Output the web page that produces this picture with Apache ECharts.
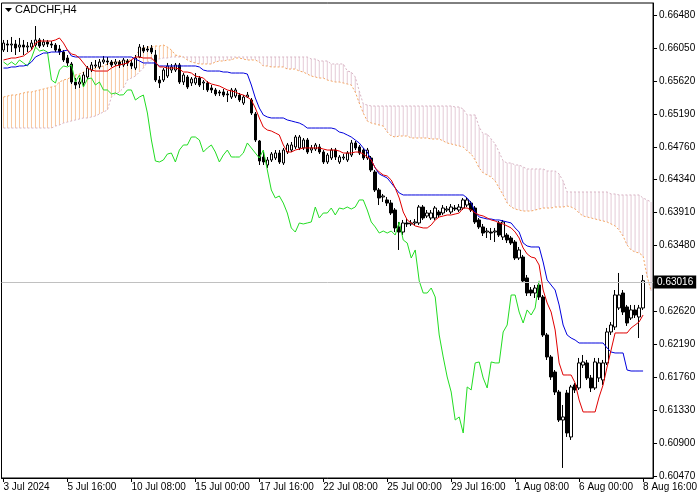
<!DOCTYPE html>
<html><head><meta charset="utf-8">
<script src="https://cdn.jsdelivr.net/npm/echarts/dist/echarts.min.js"></script>
<style>html,body{margin:0;padding:0;background:#fff}#c{width:700px;height:500px}</style>
</head><body><div id="c"></div>
<script>
const symbolName = 'CADCHF,H4';
const tickLabels = ['3 Jul 2024','5 Jul 16:00','10 Jul 08:00','15 Jul 00:00','17 Jul 16:00','22 Jul 08:00','25 Jul 00:00','29 Jul 16:00','1 Aug 08:00','6 Aug 00:00','8 Aug 16:00'];
const priceTicks = [0.60470,0.60900,0.61330,0.61760,0.62190,0.62620,0.63480,0.63910,0.64340,0.64760,0.65190,0.65620,0.66050,0.66480];
const lastPrice = 0.63016;

const opens = [
0.66024,0.66102,0.66089,0.66102,0.66063,0.66089,0.66063,0.66063,0.66089,0.66155,
0.66089,0.66128,0.66102,0.66089,0.66037,0.65998,0.65920,0.65842,0.65607,0.65581,
0.65594,0.65672,0.65763,0.65816,0.65803,0.65868,0.65881,0.65868,0.65842,0.65868,
0.65829,0.65881,0.65855,0.65789,0.65933,0.66050,0.66037,0.66050,0.65959,0.65633,
0.65633,0.65685,0.65763,0.65763,0.65829,0.65607,0.65672,0.65594,0.65594,0.65659,
0.65594,0.65594,0.65529,0.65503,0.65477,0.65477,0.65451,0.65411,0.65424,0.65437,
0.65333,0.65411,0.65372,0.65190,0.64838,0.64629,0.64525,0.64590,0.64616,0.64681,
0.64551,0.64694,0.64720,0.64760,0.64747,0.64747,0.64851,0.64720,0.64733,0.64760,
0.64694,0.64564,0.64616,0.64720,0.64564,0.64616,0.64590,0.64655,0.64812,0.64760,
0.64720,0.64616,0.64616,0.64434,0.64199,0.64108,0.64069,0.64029,0.63938,0.63717,
0.63651,0.63769,0.63756,0.63769,0.63769,0.63977,0.63860,0.63834,0.63834,0.63912,
0.63899,0.63938,0.63912,0.63964,0.63938,0.63964,0.64003,0.64029,0.63964,0.63808,
0.63717,0.63651,0.63651,0.63651,0.63769,0.63586,0.63612,0.63573,0.63521,0.63312,
0.63325,0.63052,0.62895,0.62856,0.62960,0.62804,0.62309,0.62022,0.61826,0.61565,
0.61200,0.61552,0.60979,0.61657,0.61618,0.61917,0.61944,0.61748,0.61618,0.61748,
0.61722,0.61944,0.62348,0.62413,0.62661,0.62856,0.62674,0.62530,0.62635,0.62543,
0.62661];
const closes = [
0.66115,0.66089,0.66102,0.66050,0.66089,0.66063,0.66076,0.66115,0.66155,0.66076,
0.66128,0.66102,0.66089,0.66024,0.65998,0.65894,0.65855,0.65607,0.65568,0.65607,
0.65698,0.65789,0.65829,0.65829,0.65868,0.65894,0.65868,0.65829,0.65868,0.65829,
0.65894,0.65855,0.65816,0.65920,0.66063,0.66011,0.66024,0.65998,0.65633,0.65594,
0.65763,0.65816,0.65803,0.65829,0.65607,0.65698,0.65542,0.65646,0.65659,0.65568,
0.65607,0.65503,0.65503,0.65451,0.65464,0.65437,0.65440,0.65503,0.65503,0.65372,
0.65411,0.65437,0.65203,0.64851,0.64577,0.64564,0.64590,0.64668,0.64681,0.64564,
0.64720,0.64786,0.64786,0.64890,0.64890,0.64851,0.64694,0.64747,0.64786,0.64694,
0.64564,0.64655,0.64720,0.64629,0.64629,0.64629,0.64681,0.64812,0.64747,0.64681,
0.64616,0.64720,0.64460,0.64199,0.64095,0.64121,0.64029,0.63899,0.63704,0.63651,
0.63769,0.63756,0.63769,0.63782,0.63977,0.63834,0.63899,0.63899,0.63964,0.63873,
0.63964,0.63951,0.63977,0.63951,0.63977,0.64069,0.64069,0.63938,0.63782,0.63717,
0.63638,0.63664,0.63638,0.63664,0.63612,0.63782,0.63547,0.63508,0.63312,0.63417,
0.63013,0.62856,0.62856,0.62921,0.62804,0.62309,0.62022,0.61761,0.61565,0.61200,
0.61240,0.61031,0.61631,0.61592,0.61944,0.61957,0.61748,0.61618,0.61957,0.61944,
0.61944,0.62348,0.62439,0.62830,0.62830,0.62608,0.62465,0.62635,0.62569,0.62661,
0.63016];
const lows = [
0.65998,0.65998,0.65998,0.65959,0.65998,0.65959,0.65998,0.66024,0.66063,0.66050,
0.66063,0.66063,0.66050,0.65998,0.65959,0.65868,0.65816,0.65581,0.65516,0.65529,
0.65542,0.65646,0.65737,0.65789,0.65776,0.65842,0.65829,0.65803,0.65816,0.65789,
0.65803,0.65816,0.65776,0.65763,0.65920,0.65985,0.65998,0.65972,0.65607,0.65529,
0.65607,0.65659,0.65724,0.65737,0.65581,0.65568,0.65516,0.65555,0.65568,0.65542,
0.65503,0.65477,0.65464,0.65424,0.65424,0.65411,0.65346,0.65385,0.65398,0.65346,
0.65307,0.65398,0.65177,0.64825,0.64525,0.64525,0.64486,0.64564,0.64590,0.64538,
0.64525,0.64668,0.64694,0.64733,0.64720,0.64720,0.64668,0.64681,0.64707,0.64668,
0.64538,0.64538,0.64590,0.64590,0.64538,0.64590,0.64564,0.64629,0.64720,0.64655,
0.64590,0.64590,0.64434,0.64173,0.64003,0.64043,0.63990,0.63873,0.63651,0.63417,
0.63612,0.63717,0.63730,0.63730,0.63743,0.63808,0.63834,0.63808,0.63808,0.63847,
0.63873,0.63912,0.63886,0.63925,0.63912,0.63938,0.63977,0.63912,0.63756,0.63691,
0.63599,0.63573,0.63547,0.63521,0.63586,0.63547,0.63508,0.63482,0.63286,0.63286,
0.62987,0.62817,0.62817,0.62791,0.62765,0.62283,0.61983,0.61722,0.61526,0.61174,
0.60575,0.60979,0.60940,0.61552,0.61592,0.61878,0.61722,0.61565,0.61592,0.61696,
0.61657,0.61917,0.62309,0.62374,0.62635,0.62569,0.62426,0.62504,0.62530,0.62269,
0.62635];
const highs = [
0.66155,0.66155,0.66194,0.66155,0.66181,0.66155,0.66128,0.66155,0.66337,0.66181,
0.66168,0.66155,0.66141,0.66115,0.66089,0.66024,0.65959,0.65868,0.65659,0.65659,
0.65737,0.65816,0.65868,0.65894,0.65907,0.65946,0.65933,0.65894,0.65907,0.65894,
0.65920,0.65907,0.65894,0.65959,0.66102,0.66089,0.66076,0.66089,0.66024,0.65685,
0.65789,0.65855,0.65842,0.65855,0.65855,0.65724,0.65698,0.65672,0.65724,0.65685,
0.65633,0.65620,0.65568,0.65529,0.65503,0.65516,0.65490,0.65529,0.65529,0.65464,
0.65437,0.65477,0.65398,0.65216,0.64851,0.64694,0.64629,0.64694,0.64720,0.64720,
0.64747,0.64812,0.64825,0.64916,0.64916,0.64877,0.64877,0.64786,0.64812,0.64799,
0.64720,0.64681,0.64747,0.64747,0.64655,0.64668,0.64707,0.64851,0.64838,0.64786,
0.64747,0.64747,0.64642,0.64460,0.64225,0.64147,0.64108,0.64069,0.63964,0.63782,
0.63808,0.63821,0.63808,0.63821,0.64003,0.64003,0.63938,0.63938,0.63990,0.63938,
0.64003,0.63990,0.64016,0.64003,0.64016,0.64095,0.64108,0.64056,0.63990,0.63834,
0.63756,0.63704,0.63704,0.63704,0.63795,0.63808,0.63638,0.63599,0.63547,0.63456,
0.63352,0.63091,0.62934,0.62960,0.62987,0.62830,0.62335,0.62048,0.61852,0.61592,
0.61396,0.61592,0.61657,0.61683,0.62009,0.62048,0.61983,0.61787,0.62009,0.62009,
0.61983,0.62400,0.62478,0.62895,0.63117,0.62895,0.62700,0.62700,0.62700,0.62700,
0.63091];

const tenkan = [
0.65894,0.65907,0.65920,0.65920,0.65933,0.65946,0.65985,0.66024,0.66115,0.66141,
0.66141,0.66141,0.66141,0.66155,0.66181,0.66115,0.66024,0.65972,0.65959,0.65920,
0.65855,0.65789,0.65763,0.65750,0.65750,0.65750,0.65750,0.65789,0.65816,0.65829,
0.65842,0.65855,0.65894,0.65933,0.65933,0.65920,0.65920,0.65920,0.65868,0.65803,
0.65803,0.65789,0.65789,0.65789,0.65776,0.65737,0.65737,0.65724,0.65685,0.65672,
0.65659,0.65607,0.65581,0.65568,0.65555,0.65529,0.65503,0.65490,0.65477,0.65451,
0.65437,0.65411,0.65372,0.65268,0.65138,0.65020,0.64981,0.64968,0.64942,0.64916,
0.64786,0.64694,0.64694,0.64720,0.64733,0.64747,0.64747,0.64747,0.64747,0.64747,
0.64733,0.64720,0.64720,0.64720,0.64707,0.64681,0.64681,0.64681,0.64694,0.64694,
0.64668,0.64629,0.64590,0.64486,0.64434,0.64395,0.64381,0.64329,0.64225,0.64095,
0.63912,0.63808,0.63769,0.63730,0.63717,0.63704,0.63704,0.63743,0.63808,0.63847,
0.63860,0.63873,0.63873,0.63886,0.63899,0.63964,0.63964,0.63938,0.63899,0.63873,
0.63860,0.63834,0.63808,0.63795,0.63769,0.63756,0.63730,0.63704,0.63651,0.63573,
0.63443,0.63365,0.63325,0.63312,0.63221,0.62895,0.62726,0.62608,0.62374,0.61944,
0.61787,0.61787,0.61787,0.61683,0.61461,0.61305,0.61305,0.61305,0.61305,0.61500,
0.61657,0.61891,0.62113,0.62335,0.62335,0.62335,0.62335,0.62400,0.62439,0.62478,
0.62569];
const kijun = [
0.65789,0.65789,0.65803,0.65803,0.65816,0.65816,0.65829,0.65868,0.65933,0.65959,
0.65985,0.65985,0.65998,0.65998,0.65998,0.66011,0.66024,0.65946,0.65933,0.65933,
0.65933,0.65933,0.65933,0.65933,0.65933,0.65933,0.65933,0.65933,0.65933,0.65933,
0.65933,0.65933,0.65933,0.65907,0.65881,0.65855,0.65855,0.65855,0.65855,0.65816,
0.65816,0.65816,0.65816,0.65816,0.65816,0.65816,0.65816,0.65816,0.65816,0.65803,
0.65763,0.65750,0.65750,0.65750,0.65750,0.65737,0.65737,0.65724,0.65724,0.65724,
0.65724,0.65711,0.65568,0.65398,0.65268,0.65177,0.65151,0.65138,0.65138,0.65138,
0.65138,0.65112,0.65099,0.65085,0.65072,0.65046,0.65007,0.65007,0.65007,0.65007,
0.65007,0.65007,0.65007,0.64994,0.64955,0.64942,0.64916,0.64890,0.64851,0.64812,
0.64747,0.64694,0.64590,0.64486,0.64408,0.64381,0.64355,0.64290,0.64225,0.64160,
0.64134,0.64134,0.64134,0.64134,0.64134,0.64134,0.64134,0.64134,0.64134,0.64134,
0.64134,0.64134,0.64134,0.64134,0.64134,0.64134,0.64095,0.64029,0.63912,0.63847,
0.63834,0.63821,0.63821,0.63808,0.63808,0.63795,0.63782,0.63769,0.63704,0.63651,
0.63508,0.63469,0.63456,0.63456,0.63456,0.63260,0.63026,0.62960,0.62895,0.62700,
0.62439,0.62309,0.62269,0.62243,0.62204,0.62204,0.62204,0.62204,0.62204,0.62204,
0.62204,0.62139,0.62087,0.62074,0.62074,0.62074,0.61852,0.61839,0.61839,0.61839,
0.61839];
const spanA = [
0.65411,0.65424,0.65437,0.65437,0.65451,0.65464,0.65477,0.65477,0.65490,0.65503,
0.65516,0.65529,0.65542,0.65555,0.65607,0.65633,0.65646,0.65672,0.65698,0.65711,
0.65737,0.65763,0.65776,0.65789,0.65803,0.65816,0.65842,0.65855,0.65868,0.65868,
0.65881,0.65881,0.65907,0.65946,0.66024,0.66050,0.66063,0.66063,0.66076,0.66076,
0.66089,0.66063,0.66024,0.65959,0.65946,0.65933,0.65894,0.65868,0.65855,0.65842,
0.65842,0.65842,0.65842,0.65868,0.65881,0.65881,0.65894,0.65894,0.65920,0.65920,
0.65907,0.65894,0.65894,0.65894,0.65868,0.65816,0.65816,0.65803,0.65803,0.65803,
0.65803,0.65776,0.65776,0.65776,0.65750,0.65737,0.65711,0.65685,0.65672,0.65659,
0.65659,0.65633,0.65620,0.65607,0.65607,0.65594,0.65581,0.65568,0.65477,0.65333,
0.65203,0.65099,0.65072,0.65059,0.65046,0.65033,0.64955,0.64903,0.64890,0.64903,
0.64903,0.64903,0.64877,0.64877,0.64877,0.64877,0.64877,0.64864,0.64864,0.64864,
0.64838,0.64812,0.64799,0.64786,0.64773,0.64760,0.64707,0.64668,0.64590,0.64486,
0.64421,0.64395,0.64368,0.64316,0.64225,0.64134,0.64029,0.63977,0.63951,0.63938,
0.63925,0.63925,0.63925,0.63938,0.63951,0.63964,0.63964,0.63964,0.63977,0.63977,
0.63977,0.63990,0.63977,0.63951,0.63899,0.63860,0.63847,0.63834,0.63821,0.63808,
0.63795,0.63782,0.63756,0.63730,0.63677,0.63599,0.63482,0.63417,0.63391,0.63378,
0.63339,0.63078,0.62882];
const spanB = [
0.65007,0.65007,0.65007,0.65007,0.65007,0.65007,0.65007,0.65007,0.65007,0.65007,
0.65007,0.65007,0.65007,0.65033,0.65046,0.65072,0.65085,0.65099,0.65112,0.65125,
0.65138,0.65138,0.65151,0.65164,0.65190,0.65216,0.65242,0.65411,0.65451,0.65477,
0.65529,0.65633,0.65659,0.65685,0.65737,0.65789,0.65868,0.65894,0.65907,0.65907,
0.65920,0.65920,0.65933,0.65933,0.65933,0.65933,0.65933,0.65933,0.65933,0.65933,
0.65933,0.65933,0.65933,0.65933,0.65933,0.65933,0.65933,0.65933,0.65933,0.65933,
0.65933,0.65933,0.65933,0.65933,0.65933,0.65933,0.65933,0.65933,0.65933,0.65933,
0.65933,0.65933,0.65933,0.65933,0.65933,0.65933,0.65933,0.65907,0.65907,0.65881,
0.65881,0.65881,0.65842,0.65842,0.65842,0.65842,0.65750,0.65737,0.65672,0.65490,
0.65320,0.65307,0.65294,0.65294,0.65294,0.65294,0.65294,0.65294,0.65294,0.65294,
0.65294,0.65294,0.65294,0.65294,0.65294,0.65294,0.65294,0.65294,0.65294,0.65294,
0.65294,0.65294,0.65294,0.65281,0.65281,0.65255,0.65177,0.65177,0.65177,0.65020,
0.64929,0.64929,0.64864,0.64799,0.64694,0.64577,0.64551,0.64551,0.64525,0.64525,
0.64499,0.64473,0.64473,0.64473,0.64473,0.64473,0.64447,0.64447,0.64447,0.64408,
0.64316,0.64173,0.64173,0.64173,0.64173,0.64173,0.64173,0.64173,0.64173,0.64173,
0.64173,0.64173,0.64147,0.64147,0.64134,0.64134,0.64134,0.64134,0.64134,0.64134,
0.64095,0.64069,0.64043];

// Chikou span = closing prices plotted 26 bars back
const chikouShift = 26;
const chikou = closes.slice(chikouShift);

const slotCount = spanA.length; // bars plus cloud lead
const categories = Array.from({length: slotCount}, (_, i) => i);
const labelEvery = 16;
const showTick = (i) => i % labelEvery === 0 && i / labelEvery < tickLabels.length;

const candleData = opens.map((o, i) => [o, closes[i], lows[i], highs[i]]);

const colUp = '#f4a460', colDown = '#d8b4c4';
// Kumo: one thin column per bar between Span A and Span B (stacked on an invisible base)
const kumoBase = spanA.map((a, i) => Math.min(a, spanB[i]));
const kumoBody = spanA.map((a, i) => ({
  value: Math.abs(a - spanB[i]),
  itemStyle: {color: a >= spanB[i] ? colUp : colDown, opacity: a >= spanB[i] ? 0.6 : 0.7}
}));

const yMin = 0.60444, yMax = 0.66637;
const font = '"Liberation Sans", Arial, sans-serif';

const chart = echarts.init(document.getElementById('c'), null, {renderer: 'canvas'});
chart.setOption({
  animation: false,
  backgroundColor: '#fff',
  grid: {left: 1.5, right: 46.5, top: 3, bottom: 22, show: true, borderColor: '#000', borderWidth: 1, backgroundColor: 'transparent'},
  graphic: [
    {type: 'polygon', shape: {points: [[5, 8], [12, 8], [8.5, 12]]}, style: {fill: '#000'}, z: 100},
    {type: 'text', left: 15, top: 4, style: {text: symbolName, font: '11px ' + font, fill: '#000'}, z: 100}
  ],
  xAxis: {
    type: 'category', data: categories, boundaryGap: true,
    axisLine: {show: true, lineStyle: {color: '#000'}},
    axisTick: {show: true, alignWithLabel: true, interval: showTick, length: 4, lineStyle: {color: '#000'}},
    axisLabel: {interval: showTick, formatter: (v, i) => tickLabels[Math.round(i / labelEvery)] || '', align: 'left', color: '#000', fontSize: 10, fontFamily: font, margin: 4},
    splitLine: {show: false}
  },
  yAxis: {
    type: 'value', position: 'right', min: yMin, max: yMax,
    axisLine: {show: true, lineStyle: {color: '#000'}},
    axisTick: {show: true, customValues: priceTicks, length: 4, lineStyle: {color: '#000'}},
    axisLabel: {customValues: priceTicks, formatter: (v) => v.toFixed(5), color: '#000', fontSize: 10, fontFamily: font, margin: 6},
    splitLine: {show: false}
  },
  series: [
    {type: 'bar', name: 'Kumo base', stack: 'kumo', data: kumoBase, barWidth: 1, silent: true, z: 1,
      itemStyle: {color: 'rgba(0,0,0,0)'}, emphasis: {disabled: true}},
    {type: 'bar', name: 'Kumo', stack: 'kumo', data: kumoBody, barWidth: 1, silent: true, z: 1,
      emphasis: {disabled: true}},
    {type: 'line', name: 'Senkou A', data: spanA, symbol: 'none', z: 2, silent: true,
      lineStyle: {color: colUp, width: 1, type: [2, 2]}},
    {type: 'line', name: 'Senkou B', data: spanB, symbol: 'none', z: 2, silent: true,
      lineStyle: {color: colDown, width: 1, type: [2, 2]}},
    {
      type: 'candlestick', name: symbolName, data: candleData, barWidth: 3, z: 3,
      itemStyle: {color: '#fff', color0: '#000', borderColor: '#000', borderColor0: '#000', borderWidth: 1},
      markLine: {
        symbol: 'none', silent: true, animation: false,
        lineStyle: {color: '#c0c0c0', type: 'solid', width: 1},
        label: {position: 'end', formatter: () => lastPrice.toFixed(5), backgroundColor: '#000', color: '#fff',
          padding: [2, 3, 1, 3], fontSize: 10, fontFamily: font, distance: 1},
        data: [{yAxis: lastPrice}]
      }
    },
    {type: 'line', name: 'Chikou', data: chikou, symbol: 'none', z: 4, silent: true, lineStyle: {color: '#22dd22', width: 1}},
    {type: 'line', name: 'Kijun', data: kijun, symbol: 'none', z: 5, silent: true, lineStyle: {color: '#0000dd', width: 1}},
    {type: 'line', name: 'Tenkan', data: tenkan, symbol: 'none', z: 6, silent: true, lineStyle: {color: '#e00000', width: 1}}
  ]
});
</script></body></html>
